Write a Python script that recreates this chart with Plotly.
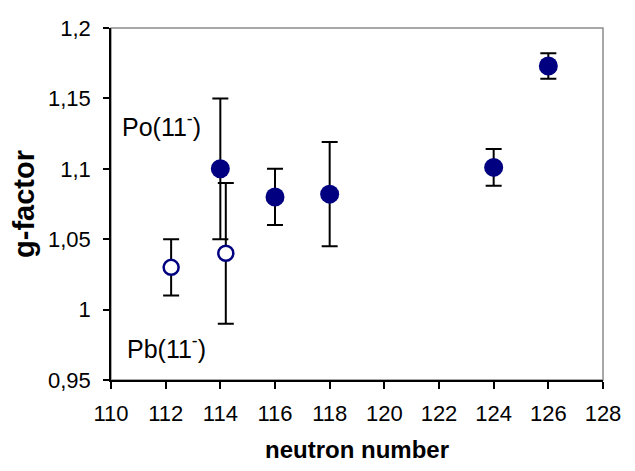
import plotly.graph_objects as go

# Po(11-) filled
po_n = [114, 116, 118, 124, 126]
po_g = [1.100, 1.080, 1.082, 1.101, 1.173]
po_err = [0.050, 0.020, 0.037, 0.013, 0.009]

# Pb(11-) open
pb_n = [112.2, 114.2]
pb_g = [1.030, 1.040]
pb_err = [0.020, 0.050]

x_ticks = [110, 112, 114, 116, 118, 120, 122, 124, 126, 128]
y_ticks = [0.95, 1.0, 1.05, 1.1, 1.15, 1.2]
y_labels = ["0,95", "1", "1,05", "1,1", "1,15", "1,2"]

FONT = "Liberation Sans, Arial, sans-serif"
NAVY = "#000080"

fig = go.Figure()
fig.add_trace(go.Scatter(
    x=pb_n, y=pb_g, mode="markers",
    marker=dict(size=15, color="white", line=dict(color=NAVY, width=2.5)),
    error_y=dict(type="data", array=pb_err, color="black", thickness=2, width=8),
    showlegend=False))
fig.add_trace(go.Scatter(
    x=po_n, y=po_g, mode="markers",
    marker=dict(size=19, color=NAVY, line=dict(width=0)),
    error_y=dict(type="data", array=po_err, color="black", thickness=2, width=8),
    showlegend=False))

fig.add_shape(type="rect", xref="paper", yref="paper", x0=0, y0=0, x1=1, y1=1,
              line=dict(color="#8c8c8c", width=1.5), layer="below")

fig.add_annotation(x=0.103, y=0.725, xref="paper", yref="paper", text="Po(11<sup>-</sup>)",
                   showarrow=False, font=dict(family=FONT, size=25, color="black"),
                   xanchor="center", yanchor="middle")
fig.add_annotation(x=0.112, y=0.094, xref="paper", yref="paper", text="Pb(11<sup>-</sup>)",
                   showarrow=False, font=dict(family=FONT, size=25, color="black"),
                   xanchor="center", yanchor="middle")

fig.update_layout(
    width=635, height=471,
    margin=dict(l=111, r=32, t=28, b=91),
    plot_bgcolor="white", paper_bgcolor="white",
    font=dict(family=FONT, color="black"),
    xaxis=dict(range=[110, 128], tickvals=x_ticks, ticks="outside", ticklen=7, tickwidth=1.5,
               tickcolor="black", showline=True, linecolor="black", linewidth=1.5,
               showgrid=False, zeroline=False, tickfont=dict(size=22, family=FONT),
               ticklabelstandoff=6,
               title=dict(text="<b>neutron number</b>", font=dict(size=24, family=FONT), standoff=16)),
    yaxis=dict(range=[0.95, 1.2], tickvals=y_ticks, ticktext=y_labels, ticks="outside", ticklen=6,
               tickwidth=1.5, tickcolor="black", showline=True, linecolor="black", linewidth=1.5,
               showgrid=False, zeroline=False, tickfont=dict(size=22, family=FONT),
               ticklabelstandoff=8,
               title=dict(text="<b>g-factor</b>", font=dict(size=29, family=FONT), standoff=5)),
)
fig.write_html("out.html")
